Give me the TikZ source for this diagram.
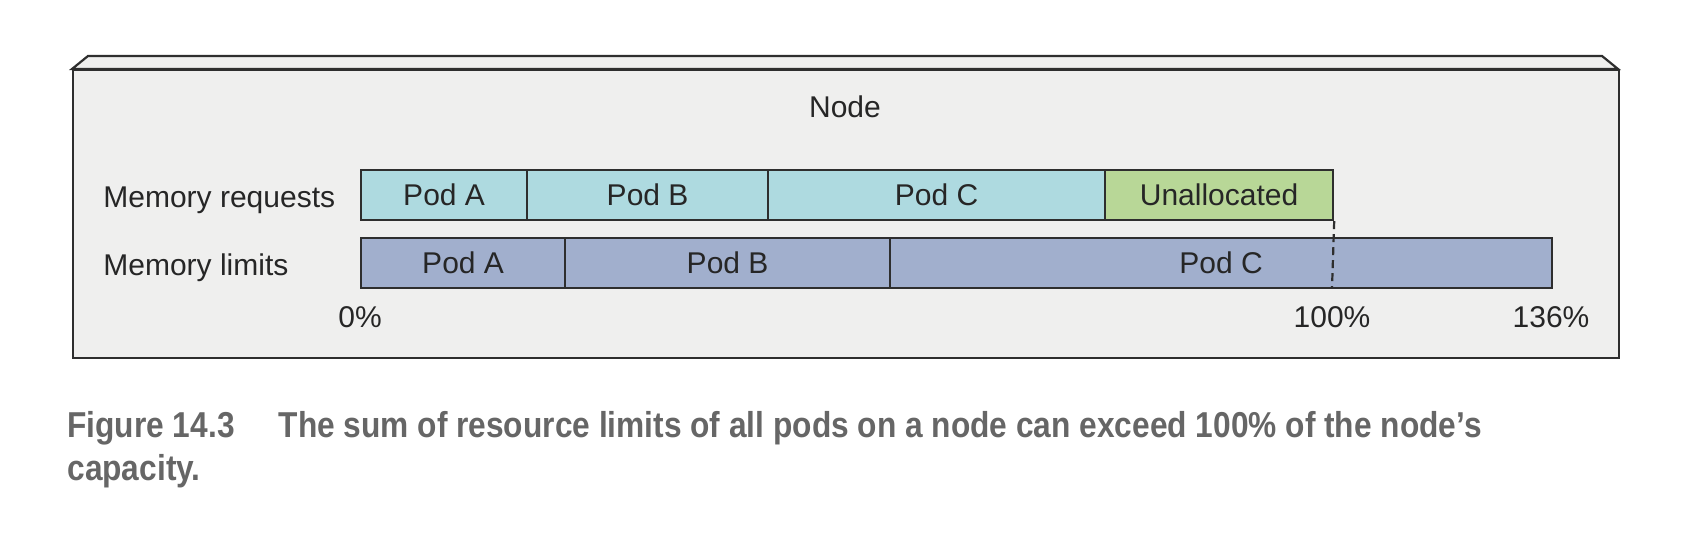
\documentclass[tikz,border=0pt]{standalone}
\usepackage{fontspec}
\setmainfont{Liberation Sans}
\newfontfamily\capfont[FakeStretch=0.88]{Liberation Sans}
\usetikzlibrary{positioning}
\definecolor{nodefill}{HTML}{EFEFEE}
\definecolor{reqfill}{HTML}{AEDAE0}
\definecolor{unalloc}{HTML}{B8D797}
\definecolor{limfill}{HTML}{A1AFCD}
\definecolor{edge}{HTML}{2E2E2E}
\definecolor{capgray}{HTML}{666666}
\begin{document}
\begin{tikzpicture}[x=0.5pt,y=-0.5pt,
  bar/.style={draw=edge,line width=1.1pt,rectangle,inner sep=0pt,anchor=west,font=\fontsize{15}{17}\selectfont,text=black!85},
  req/.style={bar,fill=reqfill,minimum height=25pt},
  lim/.style={bar,fill=limfill,minimum height=25pt},
  lbl/.style={inner sep=0pt,font=\fontsize{15}{17}\selectfont,text=black!85},
  captext/.style={inner sep=0pt,anchor=base west,text=capgray,font=\capfont\bfseries\fontsize{18}{21.5}\selectfont},
]
\useasboundingbox (0,0) rectangle (1696,536);
% node box
\draw[edge,line width=1.1pt,fill=nodefill] (72,69) -- (88,56) -- (1602,56) -- (1618,69) -- cycle;
\node[draw=edge,line width=1.1pt,fill=nodefill,rectangle,inner sep=0pt,minimum width=773pt,minimum height=144pt,anchor=north west] (nodebox) at (72,69) {};
\node[lbl,anchor=base] (nodelbl) at (845,117) {Node};
% requests
\node[lbl,anchor=base west] (reqlbl) at (103,207) {Memory requests};
\node[req,minimum width=83pt] (ra) at (360,195) {Pod A};
\node[req,minimum width=120.5pt] (rb) at (526,195) {Pod B};
\node[req,minimum width=168.5pt] (rc) at (767,195) {Pod C};
\node[req,fill=unalloc,minimum width=114pt] (ru) at (1104,195) {Unallocated};
% limits
\node[lbl,anchor=base west] (limlbl) at (103,275) {Memory limits};
\node[lim,minimum width=102pt] (la) at (360,263) {Pod A};
\node[lim,minimum width=162.5pt] (lb) at (564,263) {Pod B};
\node[lim,minimum width=331pt] (lc) at (889,263) {Pod C};
% dashed 100% line
\coordinate (hundred) at (1332,288);
\draw[edge,line width=1.1pt,dash pattern=on 4pt off 2.5pt] (ru.south east) -- (hundred);
% percent labels
\node[lbl,anchor=base] (p0) at (360,327) {0\%};
\node[lbl,anchor=base] (p100) at (1332,327) {100\%};
\node[lbl,anchor=base] (p136) at (1551,327) {136\%};
% caption
\node[captext] (cap1) at (67,437) {Figure 14.3\hspace{22pt}The sum of resource limits of all pods on a node can exceed 100\% of the node’s};
\node[captext] (cap2) at (67,480) {capacity.};
\end{tikzpicture}
\end{document}
